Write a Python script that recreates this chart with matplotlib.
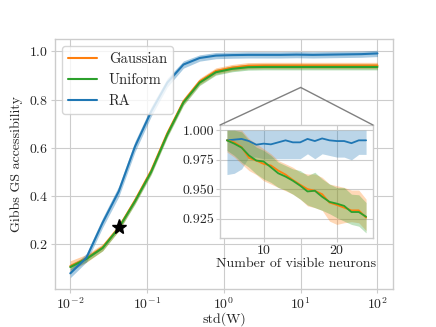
import numpy as np
import matplotlib
matplotlib.use("Agg")
import matplotlib.pyplot as plt
from matplotlib.patches import ConnectionPatch
from matplotlib.ticker import FormatStrFormatter

plt.style.use("seaborn-v0_8-whitegrid")
plt.rcParams["font.family"] = ["cmr10", "DejaVu Serif"]
plt.rcParams["mathtext.fontset"] = "cm"
plt.rcParams["axes.unicode_minus"] = False
plt.rcParams["axes.formatter.use_mathtext"] = True
plt.rcParams["font.size"] = 10

# main panel: accessibility vs std(W)
std_w = np.logspace(-2, 2, 20)
gauss = [0.110, 0.142, 0.188, 0.270, 0.382, 0.505, 0.660, 0.792, 0.875, 0.918,
         0.932, 0.940, 0.941, 0.941, 0.941, 0.941, 0.941, 0.941, 0.941, 0.941]
gauss_err = [0.022, 0.016, 0.014, 0.013, 0.013, 0.013, 0.013, 0.013, 0.013, 0.013,
             0.013, 0.013, 0.013, 0.013, 0.013, 0.013, 0.013, 0.013, 0.013, 0.013]
unif = [0.106, 0.140, 0.185, 0.268, 0.378, 0.500, 0.655, 0.788, 0.870, 0.913,
        0.927, 0.934, 0.935, 0.935, 0.935, 0.935, 0.935, 0.935, 0.935, 0.935]
unif_err = [0.012, 0.012, 0.012, 0.012, 0.012, 0.012, 0.012, 0.012, 0.012, 0.012,
            0.012, 0.012, 0.012, 0.012, 0.012, 0.012, 0.012, 0.012, 0.012, 0.012]
ra = [0.080, 0.145, 0.290, 0.420, 0.605, 0.750, 0.870, 0.945, 0.972, 0.982,
      0.984, 0.985, 0.985, 0.985, 0.986, 0.985, 0.986, 0.987, 0.988, 0.991]
ra_err = [0.018, 0.018, 0.020, 0.022, 0.022, 0.020, 0.018, 0.015, 0.013, 0.013,
          0.013, 0.013, 0.013, 0.013, 0.013, 0.013, 0.013, 0.013, 0.013, 0.013]
star_x, star_y = 0.0428, 0.27

# inset: accessibility vs number of visible neurons
n_vis = np.arange(5, 25)
ra_in = [0.9914, 0.9920, 0.9926, 0.9908, 0.9877, 0.9886, 0.9880, 0.9897, 0.9914, 0.9897,
         0.9897, 0.9926, 0.9908, 0.9930, 0.9914, 0.9908, 0.9908, 0.9890, 0.9914, 0.9914]
ra_in_lo = [0.9624, 0.9635, 0.9672, 0.9772, 0.9772, 0.9758, 0.9758, 0.9758, 0.9758, 0.9758,
            0.9758, 0.9800, 0.9758, 0.9800, 0.9786, 0.9772, 0.9772, 0.9749, 0.9795, 0.9795]
ra_in_hi = [1.0] * 20
gauss_in = [0.9914, 0.9897, 0.9857, 0.9766, 0.9743, 0.9715, 0.9701, 0.9658, 0.9624, 0.9578,
            0.9538, 0.9501, 0.9487, 0.9458, 0.9387, 0.9367, 0.9344, 0.9321, 0.9321, 0.9259]
gauss_in_lo = [0.9815, 0.9772, 0.9715, 0.9658, 0.9624, 0.9572, 0.9544, 0.9515, 0.9487, 0.9458,
               0.9416, 0.9359, 0.9344, 0.9321, 0.9230, 0.9202, 0.9216, 0.9225, 0.9216, 0.9150]
gauss_in_hi = [1.0, 1.0, 1.0, 0.9929, 0.9886, 0.9843, 0.9800, 0.9743, 0.9715, 0.9686,
               0.9644, 0.9629, 0.9629, 0.9601, 0.9544, 0.9530, 0.9515, 0.9493, 0.9493, 0.9416]
unif_in = [0.9914, 0.9886, 0.9852, 0.9786, 0.9743, 0.9735, 0.9686, 0.9635, 0.9607, 0.9572,
           0.9530, 0.9481, 0.9487, 0.9436, 0.9393, 0.9378, 0.9359, 0.9307, 0.9307, 0.9267]
unif_in_lo = [0.9829, 0.9786, 0.9729, 0.9686, 0.9629, 0.9587, 0.9558, 0.9515, 0.9493, 0.9458,
              0.9416, 0.9367, 0.9344, 0.9321, 0.9293, 0.9259, 0.9230, 0.9202, 0.9187, 0.9130]
unif_in_hi = [1.0, 1.0, 0.9986, 0.9914, 0.9857, 0.9829, 0.9786, 0.9729, 0.9701, 0.9672,
              0.9658, 0.9615, 0.9644, 0.9587, 0.9544, 0.9515, 0.9515, 0.9458, 0.9453, 0.9387]

c_gauss, c_unif, c_ra = "#ff7f0e", "#2ca02c", "#1f77b4"

fig = plt.figure(figsize=(4.36, 3.27), dpi=100)
ax = fig.add_axes([0.126, 0.116, 0.775, 0.765])

for y, e, c, lab in [(gauss, gauss_err, c_gauss, "Gaussian"),
                     (unif, unif_err, c_unif, "Uniform"),
                     (ra, ra_err, c_ra, "RA")]:
    y = np.array(y)
    e = np.array(e)
    ax.plot(std_w, y, color=c, lw=1.5, label=lab)
    ax.fill_between(std_w, y - e, y + e, color=c, alpha=0.38, lw=0)

ax.plot(star_x, star_y, marker="*", color="k", ms=11, ls="none", zorder=5)
ax.set_xscale("log")
ax.set_yticks([0.2, 0.4, 0.6, 0.8, 1.0])
ax.minorticks_off()
ax.tick_params(length=3, width=0.8, color="0.8", pad=2)
ax.set_xlabel("std(W)", labelpad=0)
ax.set_ylabel("Gibbs GS accessibility", labelpad=4)
ax.legend(loc="upper left", frameon=True, fontsize=10.5)

# inset
axin = fig.add_axes([0.5046, 0.272, 0.351, 0.3456])
axin.plot(n_vis, ra_in, color=c_ra, lw=1.3)
axin.fill_between(n_vis, ra_in_lo, ra_in_hi, color=c_ra, alpha=0.3, lw=0)
axin.plot(n_vis, gauss_in, color=c_gauss, lw=1.3)
axin.fill_between(n_vis, gauss_in_lo, gauss_in_hi, color=c_gauss, alpha=0.3, lw=0)
axin.plot(n_vis, unif_in, color=c_unif, lw=1.3)
axin.fill_between(n_vis, unif_in_lo, unif_in_hi, color=c_unif, alpha=0.3, lw=0)
axin.set_xticks([10, 20])
axin.set_yticks([0.925, 0.95, 0.975, 1.0])
axin.yaxis.set_major_formatter(FormatStrFormatter("%.3f"))
axin.tick_params(length=3, width=0.8, color="0.8", pad=1)
axin.set_xlabel("Number of visible neurons", labelpad=1)

# lines from the zoom point to the inset corners
for corner in [(0, 1), (1, 1)]:
    con = ConnectionPatch(xyA=(10, 0.85), coordsA=ax.transData,
                          xyB=corner, coordsB=axin.transAxes,
                          color="0.5", lw=1)
    fig.add_artist(con)

fig.savefig("out.png", dpi=100)
